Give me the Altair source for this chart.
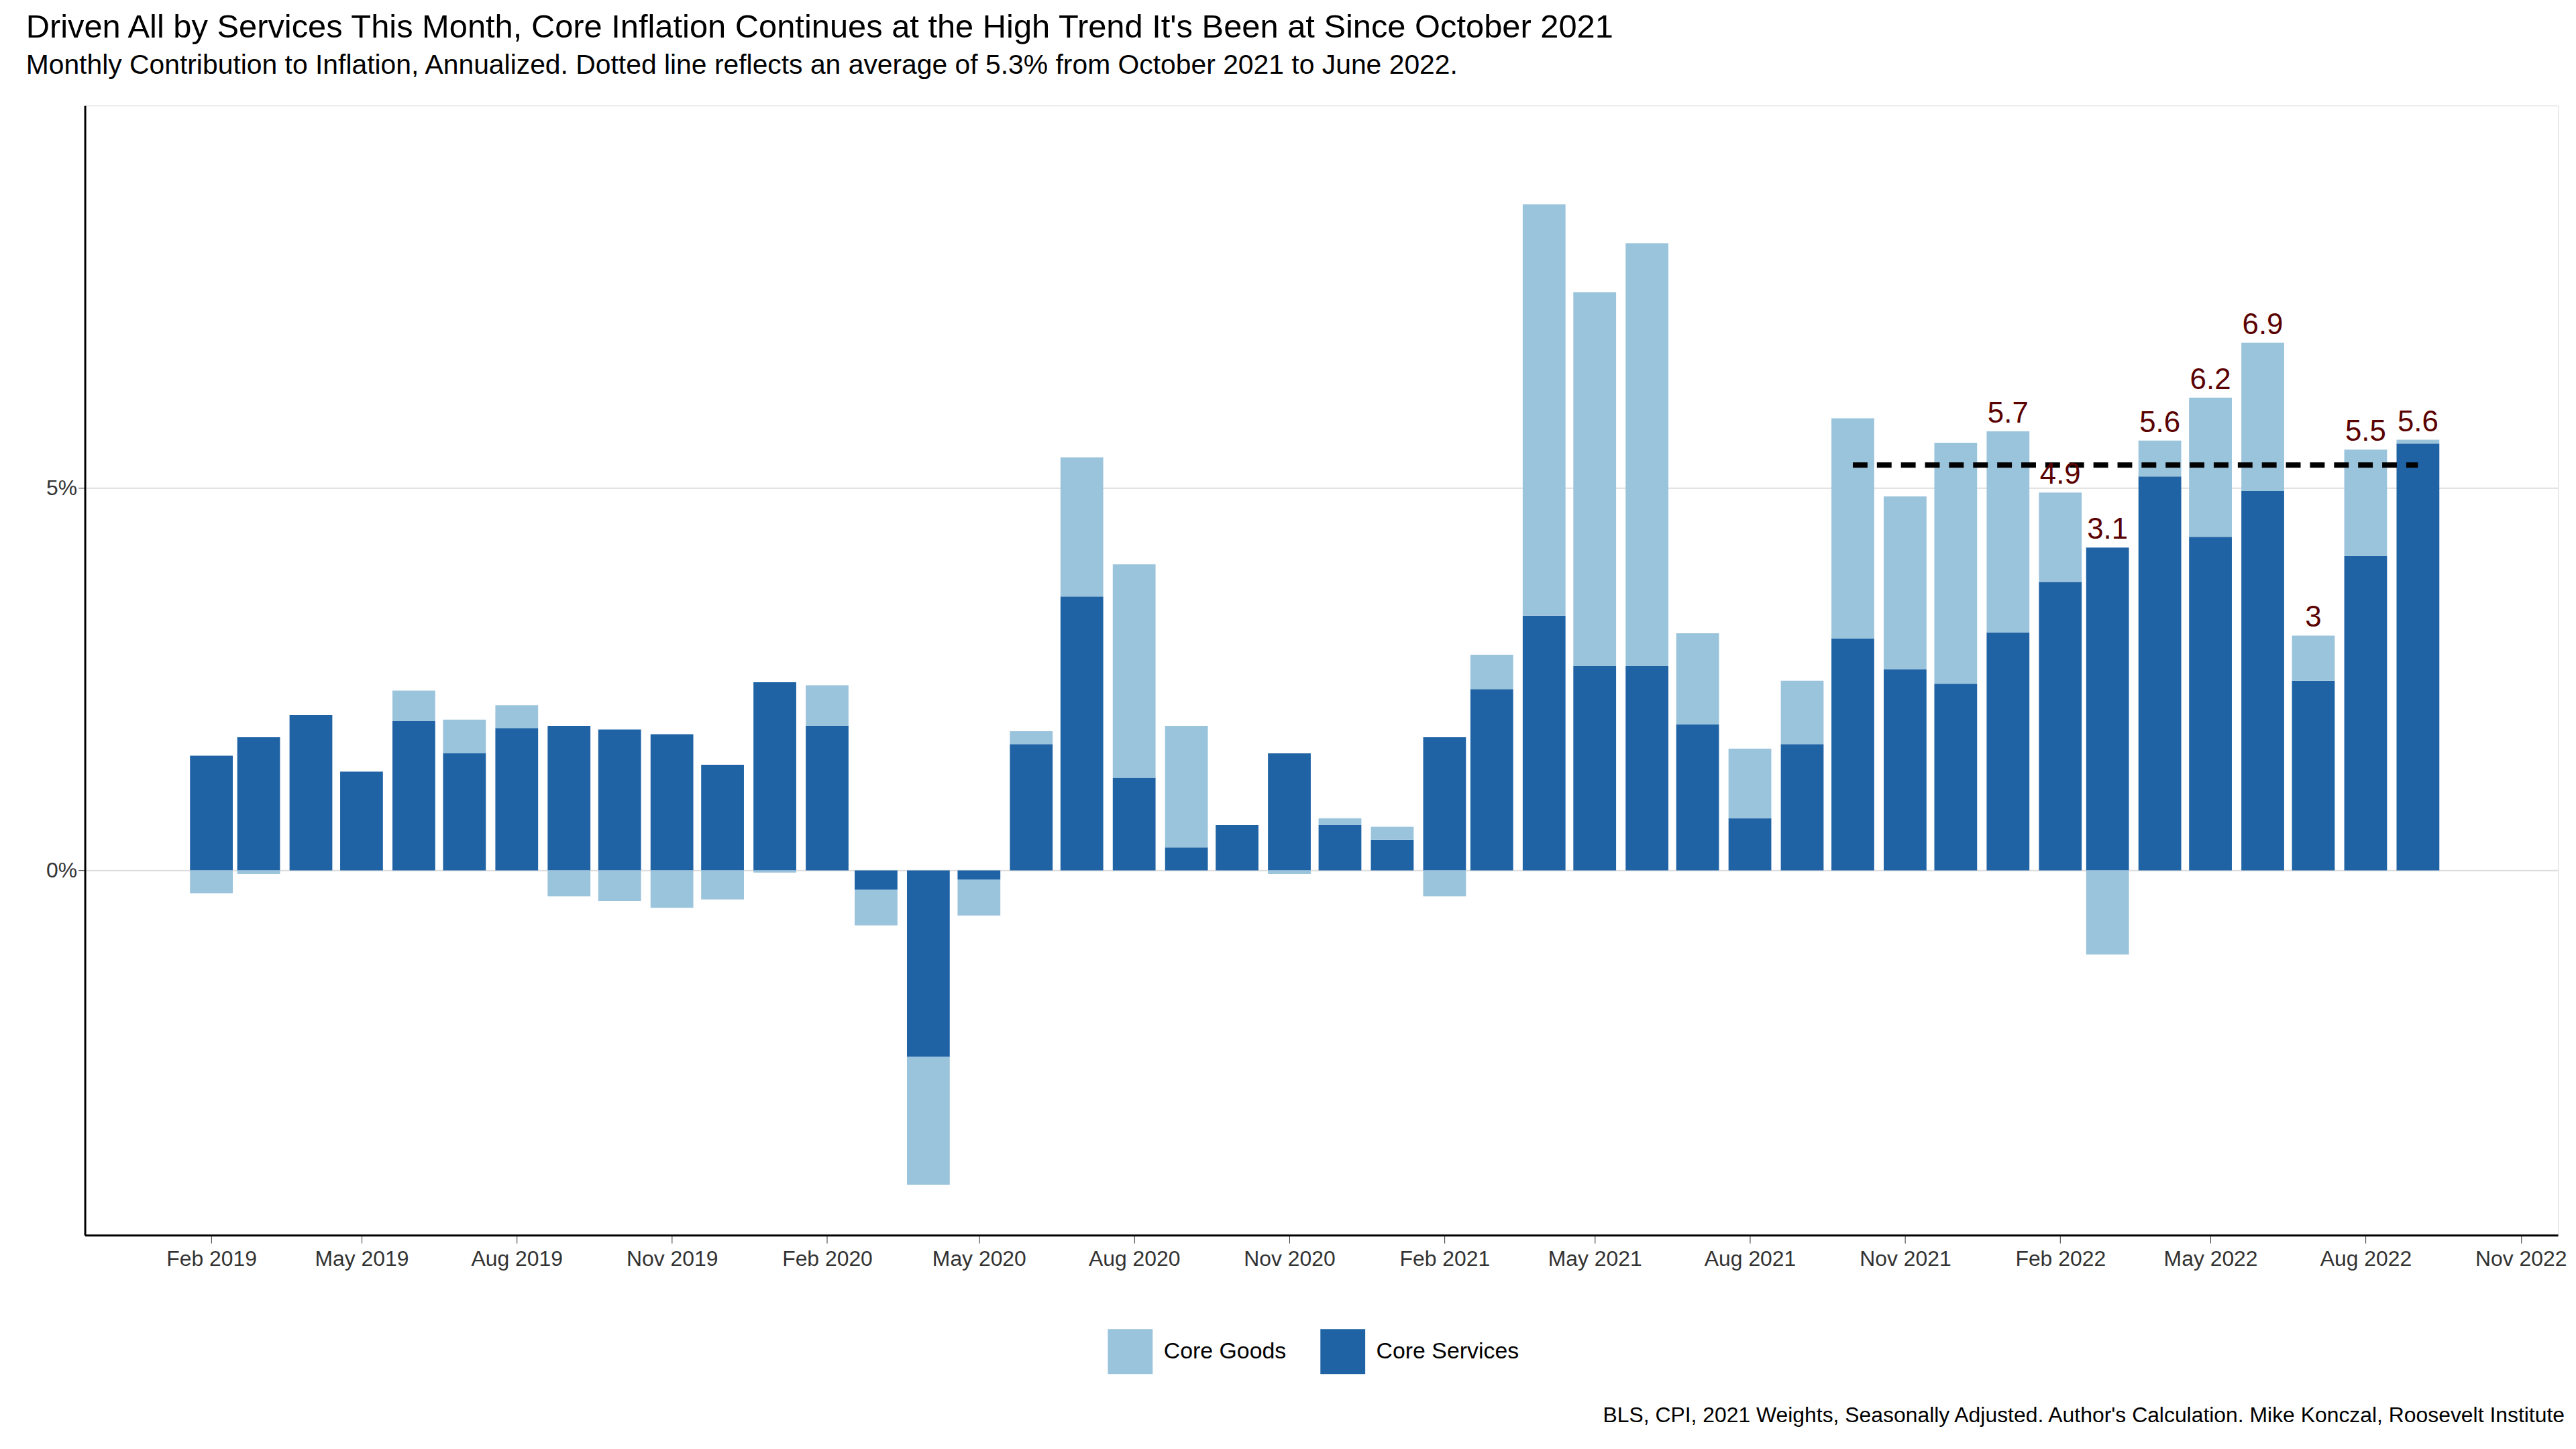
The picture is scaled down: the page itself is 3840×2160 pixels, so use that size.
import altair as alt
import pandas as pd

months = pd.date_range("2019-02-01", "2022-09-01", freq="MS")

services = [1.50, 1.74, 2.03, 1.29, 1.95, 1.53, 1.86, 1.89, 1.84, 1.78, 1.38,
            2.46, 1.89, -0.25, -2.44, -0.12, 1.65, 3.58, 1.21, 0.30, 0.59, 1.53,
            0.59, 0.40, 1.74, 2.37, 3.33, 2.67, 2.67, 1.91, 0.68, 1.65, 3.03,
            2.63, 2.44, 3.11, 3.77, 4.22, 5.15, 4.36, 4.96, 2.48, 4.11, 5.58]
goods = [-0.30, -0.05, 0.00, 0.00, 0.40, 0.44, 0.30, -0.34, -0.40, -0.49, -0.38,
         -0.03, 0.53, -0.47, -1.67, -0.47, 0.17, 1.82, 2.79, 1.59, 0.00, -0.05,
         0.09, 0.17, -0.34, 0.45, 5.38, 4.89, 5.53, 1.19, 0.91, 0.83, 2.88,
         2.26, 3.15, 2.63, 1.17, -1.10, 0.47, 1.82, 1.94, 0.59, 1.39, 0.05]
labels = [""] * 35 + ["5.7", "4.9", "3.1", "5.6", "6.2", "6.9", "3", "5.5", "5.6"]

avg_value = 5.3
avg_start = "2021-10-01"
avg_end = "2022-09-01"

rows = []
for m, s, g in zip(months, services, goods):
    rows.append({"month": m, "value": s, "type": "Core Services", "ord": 0})
    rows.append({"month": m, "value": g, "type": "Core Goods", "ord": 1})
df = pd.DataFrame(rows)

lab = pd.DataFrame({
    "month": months,
    "top": [s + max(g, 0) if s > 0 else max(g, 0) for s, g in zip(services, goods)],
    "label": labels,
})
lab = lab[lab["label"] != ""]

W, H = 3700, 1690
x_scale = alt.Scale(domain=["2018-11-20", "2022-11-21"])
y_scale = alt.Scale(domain=[-4.77, 10.0], nice=False)

bars = alt.Chart(df).mark_bar(width=64).encode(
    x=alt.X("month:T", scale=x_scale, title=None,
            axis=alt.Axis(format="%b %Y", values=[pd.Timestamp(f"{y}-{m:02d}-01").isoformat()
                                                  for y in range(2019, 2023) for m in (2, 5, 8, 11)],
                          grid=False, labelFontSize=32, labelColor="#333", tickSize=12,
                          domainColor="black", domainWidth=3, tickColor="#333", labelPadding=8)),
    y=alt.Y("value:Q", stack="zero", scale=y_scale, title=None,
            axis=alt.Axis(values=[0, 5], format=".0f", labelExpr="datum.value + '%'",
                          labelFontSize=32, labelColor="#333", gridColor="#dddddd", gridWidth=2,
                          domainColor="black", domainWidth=3, tickColor="#333", tickSize=10)),
    color=alt.Color("type:N", scale=alt.Scale(domain=["Core Goods", "Core Services"],
                                              range=["#9ac3dc", "#1f63a5"]),
                    legend=alt.Legend(title=None, orient="none", direction="horizontal",
                                      legendX=1530, legendY=1830, labelLimit=600,
                                      symbolType="square", symbolSize=4500, symbolStrokeWidth=0,
                                      labelFontSize=34, columnPadding=50, labelOffset=16)),
    order=alt.Order("ord:Q"),
)

avg = alt.Chart(pd.DataFrame({"a": [avg_start], "b": [avg_end], "v": [avg_value]})).mark_rule(
    strokeDash=[22, 14], strokeWidth=8, color="black").encode(
    x=alt.X("a:T", scale=x_scale), x2="b:T", y=alt.Y("v:Q", scale=y_scale))

text = alt.Chart(lab).mark_text(dy=-26, fontSize=44, color="#5a0000").encode(
    x=alt.X("month:T", scale=x_scale), y=alt.Y("top:Q", scale=y_scale), text="label:N")

caption = alt.Chart(pd.DataFrame({"t": ["BLS, CPI, 2021 Weights, Seasonally Adjusted. Author's Calculation. Mike Konczal, Roosevelt Institute"]})).mark_text(
    align="right", fontSize=32, color="black").encode(
    x=alt.value(W + 10), y=alt.value(H + 270), text="t:N")

chart = alt.layer(bars, avg, text, caption).properties(
    width=W, height=H,
    padding={"left": 30, "right": 5, "top": 5, "bottom": 5},
    title=alt.TitleParams(
        "Driven All by Services This Month, Core Inflation Continues at the High Trend It's Been at Since October 2021",
        subtitle="Monthly Contribution to Inflation, Annualized. Dotted line reflects an average of 5.3% from October 2021 to June 2022.",
        anchor="start", frame="bounds", fontSize=49, fontWeight="normal", subtitleFontSize=41,
        color="black", subtitleColor="black", offset=40, subtitlePadding=12, dx=-30),
).configure_view(strokeWidth=0).configure(font="Liberation Sans")

chart.save("out.html", embed_options={"renderer": "svg", "actions": False})
